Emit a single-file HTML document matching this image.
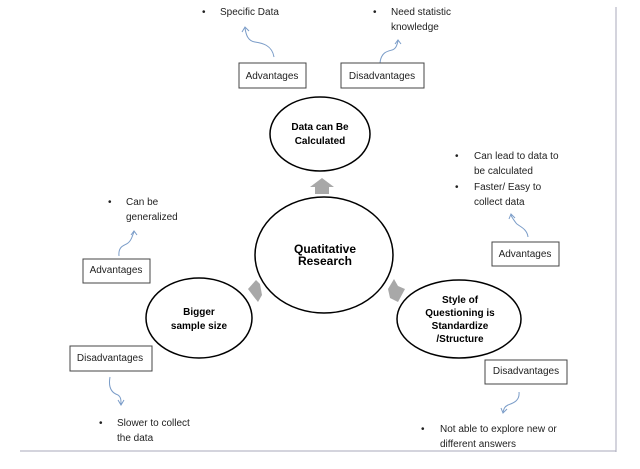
<!DOCTYPE html>
<html><head><style>
body{margin:0;background:#fff}
svg{display:block}
text{font-family:"Liberation Sans",sans-serif;font-size:10px;fill:#222}
.b{font-weight:bold;fill:#000}
</style></head><body>
<svg width="640" height="469" viewBox="0 0 640 469">
<line x1="616" y1="7" x2="616" y2="452" stroke="#aab" stroke-width="1"/>
<line x1="20" y1="451" x2="616" y2="451" stroke="#aab" stroke-width="1"/>
<g fill="none" stroke="#7a9cc8" stroke-width="1">
<path d="M274 57 C272 45 262 43 255 42 C248 41 246 35 245 28"/><path d="M242 32 L245 27 L249 31"/>
<path d="M380 63 C381 52 388 51 392 50 C396 49 397 45 398 41"/><path d="M395 44 L398 40 L401 44"/>
<path d="M528 237 C527 228 518 226 516 223 C514 220 512 218 511 215"/><path d="M509 219 L511 214 L515 218"/>
<path d="M119 256 C118 246 124 246 128 243 C132 240 132 236 134 232"/><path d="M131 235 L134 231 L137 235"/>
<path d="M110 377 C108 388 112 393 118 395 C121 397 121 400 121 404"/><path d="M118 400 L121 405 L124 400"/>
<path d="M519 392 C520 401 513 403 508 405 C504 407 504 409 503 412"/><path d="M501 408 L503 413 L507 409"/>
</g>
<g fill="#fff" stroke="#444" stroke-width="1">
<rect x="239" y="63" width="67" height="25"/>
<rect x="341" y="63" width="83" height="25"/>
<rect x="492" y="242" width="67" height="24"/>
<rect x="83" y="259" width="67" height="24"/>
<rect x="70" y="346" width="82" height="25"/>
<rect x="485" y="360" width="82" height="24"/>
</g>
<g fill="#fff" stroke="#000" stroke-width="1.5">
<ellipse cx="320" cy="134" rx="50" ry="37"/>
<ellipse cx="324" cy="255" rx="69" ry="58"/>
<ellipse cx="199" cy="318" rx="53" ry="40"/>
<ellipse cx="459" cy="319" rx="62" ry="39"/>
</g>
<g fill="#a8a8a8">
<polygon points="310,187 322,178 334,187 329,187 329,194 315,194 315,187"/>
<polygon points="248,289 256,280 260,284 262,295 258,302 254,297"/>
<polygon points="388,289 394,279 398,286 405,289 398,302 390,298"/>
</g>
<g text-anchor="middle">
<text x="272" y="79">Advantages</text>
<text x="382" y="79">Disadvantages</text>
<text x="525" y="257">Advantages</text>
<text x="116" y="273">Advantages</text>
<text x="110" y="361">Disadvantages</text>
<text x="526" y="374">Disadvantages</text>
<text class="b" x="320" y="130">Data can Be</text>
<text class="b" x="320" y="144">Calculated</text>
<text class="b" x="325" y="253" style="font-size:12px">Quatitative</text>
<text class="b" x="325" y="265" style="font-size:12px">Research</text>
<text class="b" x="199" y="315">Bigger</text>
<text class="b" x="199" y="329">sample size</text>
<text class="b" x="460" y="303">Style of</text>
<text class="b" x="460" y="316">Questioning is</text>
<text class="b" x="460" y="329">Standardize</text>
<text class="b" x="460" y="342">/Structure</text>
</g>
<g>
<text x="202" y="15">•</text><text x="220" y="15">Specific Data</text>
<text x="373" y="15">•</text><text x="391" y="15">Need statistic</text><text x="391" y="30">knowledge</text>
<text x="455" y="159">•</text><text x="474" y="159">Can lead to data to</text><text x="474" y="174">be calculated</text>
<text x="455" y="190">•</text><text x="474" y="190">Faster/ Easy to</text><text x="474" y="205">collect data</text>
<text x="108" y="205">•</text><text x="126" y="205">Can be</text><text x="126" y="220">generalized</text>
<text x="99" y="426">•</text><text x="117" y="426">Slower to collect</text><text x="117" y="441">the data</text>
<text x="421" y="432">•</text><text x="440" y="432">Not able to explore new  or</text><text x="440" y="447">different answers</text>
</g>
</svg>
</body></html>
